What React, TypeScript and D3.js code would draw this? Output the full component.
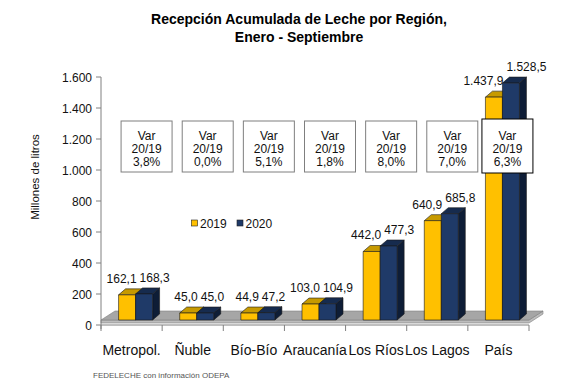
import React from "react";
import * as d3 from "d3";

const categories = ["Metropol.", "Ñuble", "Bío-Bío", "Araucanía", "Los Ríos", "Los Lagos", "País"];
const values2019 = [162.1, 45.0, 44.9, 103.0, 442.0, 640.9, 1437.9];
const values2020 = [168.3, 45.0, 47.2, 104.9, 477.3, 685.8, 1528.5];
const variations = ["3,8%", "0,0%", "5,1%", "1,8%", "8,0%", "7,0%", "6,3%"];
const yTicks = [0, 200, 400, 600, 800, 1000, 1200, 1400, 1600];
const seriesNames = ["2019", "2020"];

const W = 573, H = 390;
const FONT = "'Liberation Sans', Arial, sans-serif";

const locale = d3.formatLocale({ decimal: ",", thousands: ".", grouping: [3], currency: ["$", ""] });
const fmtVal = locale.format(",.1f");
const fmtTick = locale.format(",");

const x = d3.scaleBand<string>().domain(categories).range([101, 529]).padding(0);
const y = d3.scaleLinear().domain([0, 1600]).range([325, 77]);

const DX = 7, DY = 6; // depth of bars
const FLOOR_DX = 14, FLOOR_DY = 9, FLOOR_LIFT = 5;
const BAR_W = 17;

const colors = {
  y: { front: "#FFC000", top: "#C79A00", side: "#A57F00" },
  n: { front: "#1F3A68", top: "#162B4E", side: "#0E1D36" },
};

function Bar({ x0, v, c }: { x0: number; v: number; c: { front: string; top: string; side: string } }) {
  const base = y(0) - FLOOR_LIFT;
  const top = y(v) - FLOOR_LIFT;
  const x1 = x0 + BAR_W;
  const stroke = "#1a1a1a";
  return (
    <g strokeWidth={0.6} stroke={stroke} strokeLinejoin="round">
      <polygon points={`${x1},${base} ${x1 + DX},${base - DY} ${x1 + DX},${top - DY} ${x1},${top}`} fill={c.side} />
      <polygon points={`${x0},${top} ${x1},${top} ${x1 + DX},${top - DY} ${x0 + DX},${top - DY}`} fill={c.top} />
      <rect x={x0} y={top} width={BAR_W} height={base - top} fill={c.front} />
    </g>
  );
}

export default function App() {
  const bw = x.bandwidth();
  const floorY = y(0) - FLOOR_LIFT;
  const xL = x.range()[0], xR = x.range()[1];
  return (
    <svg width={W} height={H} style={{ position: "absolute", left: 0, top: 0, background: "#fff" }} fontFamily={FONT}>
      <rect width={W} height={H} fill="#fff" />
      {/* Title */}
      <text x={299} y={24} textAnchor="middle" fontSize={14} fontWeight="bold" fill="#000">Recepción Acumulada de Leche por Región,</text>
      <text x={299} y={42} textAnchor="middle" fontSize={14} fontWeight="bold" fill="#000">Enero - Septiembre</text>

      {/* Y axis title */}
      <text transform={`translate(39,177) rotate(-90)`} textAnchor="middle" fontSize={11.5} fill="#111">Millones de litros</text>

      {/* Floor */}
      <polygon points={`${xL},${floorY + 3} ${xR},${floorY + 3} ${xR + FLOOR_DX},${floorY + 3 - FLOOR_DY} ${xR + FLOOR_DX},${floorY - FLOOR_DY} ${xR},${floorY} ${xL},${floorY}`} fill="#BDBDBD" stroke="#808080" strokeWidth={0.6} />
      <polygon points={`${xL},${floorY} ${xL + FLOOR_DX},${floorY - FLOOR_DY} ${xR + FLOOR_DX},${floorY - FLOOR_DY} ${xR},${floorY}`} fill="#A6A6A6" stroke="#808080" strokeWidth={0.6} />

      {/* Y axis */}
      <line x1={101} x2={101} y1={y(1600)} y2={y(0) + 4} stroke="#808080" />
      {yTicks.map((t) => (
        <g key={t}>
          <line x1={96} x2={101} y1={y(t)} y2={y(t)} stroke="#808080" />
          <text x={92} y={y(t) + 4.5} textAnchor="end" fontSize={12} fill="#111">{fmtTick(t)}</text>
        </g>
      ))}

      {/* X axis */}
      <line x1={xL} x2={xR} y1={y(0)} y2={y(0)} stroke="#808080" />
      {categories.map((c, i) => (
        <line key={"t" + i} x1={x(c)!} x2={x(c)!} y1={y(0)} y2={y(0) + 6} stroke="#808080" />
      ))}
      <line x1={xR} x2={xR} y1={y(0)} y2={y(0) + 6} stroke="#808080" />
      {categories.map((c) => (
        <text key={"c" + c} x={x(c)! + bw / 2} y={355} textAnchor="middle" fontSize={14} fill="#111">{c}</text>
      ))}

      {/* Bars */}
      {categories.map((c, i) => {
        const gx = x(c)! + (bw - 2 * BAR_W) / 2 + 4;
        return (
          <g key={"b" + c}>
            <Bar x0={gx} v={values2019[i]} c={colors.y} />
            <Bar x0={gx + BAR_W} v={values2020[i]} c={colors.n} />
          </g>
        );
      })}

      {/* Value labels */}
      {categories.map((c, i) => {
        const gx = x(c)! + (bw - 2 * BAR_W) / 2 + 4;
        return (
          <g key={"l" + c} fontSize={12} fill="#111">
            <text x={gx + BAR_W + 1} y={y(values2019[i]) - FLOOR_LIFT - 12} textAnchor="end">{fmtVal(values2019[i])}</text>
            <text x={gx + BAR_W + 4} y={y(values2020[i]) - FLOOR_LIFT - 12} textAnchor="start">{fmtVal(values2020[i])}</text>
          </g>
        );
      })}

      {/* Variation boxes */}
      {categories.map((c, i) => {
        const last = i === categories.length - 1;
        const cx = x(c)! + bw / 2 + (last ? 9 : 15);
        const w = 51;
        const y0 = last ? 119 : 121;
        const h = last ? 54 : 51;
        return (
          <g key={"v" + c}>
            <rect x={cx - w / 2} y={y0} width={w} height={h} fill="#fff" stroke={last ? "#000" : "#7F7F7F"} strokeWidth={1} />
            <text x={cx} y={139.5} textAnchor="middle" fontSize={12} fill="#111">Var</text>
            <text x={cx} y={152.5} textAnchor="middle" fontSize={12} fill="#111">20/19</text>
            <text x={cx} y={165.5} textAnchor="middle" fontSize={12} fill="#111">{variations[i]}</text>
          </g>
        );
      })}

      {/* Legend */}
      {seriesNames.map((s, i) => {
        const lx = 191.5 + i * 45.5;
        return (
          <g key={"lg" + s}>
            <rect x={lx} y={220} width={6} height={6} fill={i === 0 ? colors.y.front : colors.n.front} stroke="#222" strokeWidth={0.6} />
            <text x={lx + 8.5} y={227.5} fontSize={12} fill="#111">{s}</text>
          </g>
        );
      })}

      {/* Source */}
      <text x={93} y={378} fontSize={8} fill="#555">FEDELECHE con información ODEPA</text>
    </svg>
  );
}
